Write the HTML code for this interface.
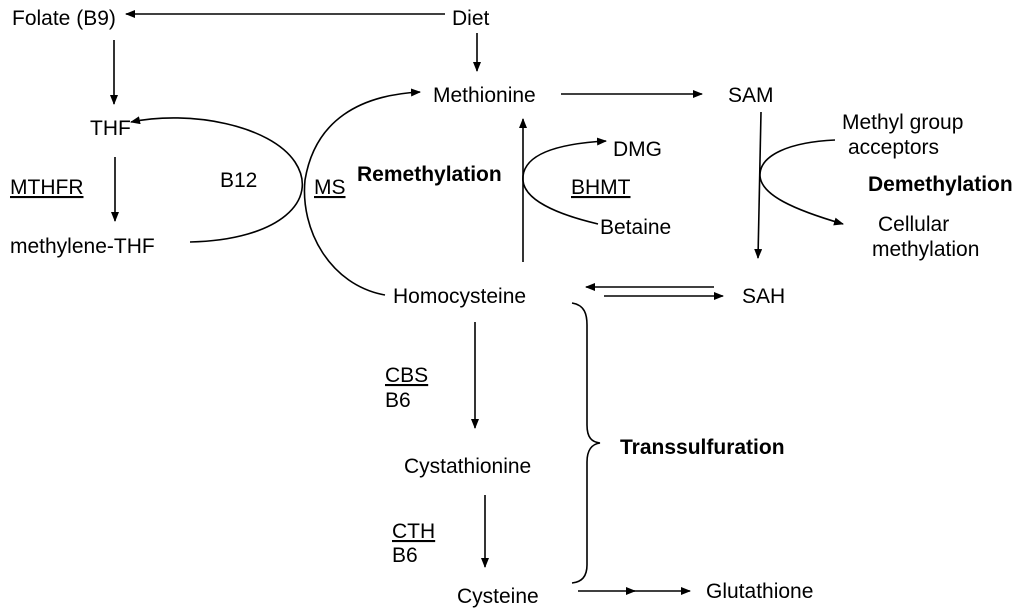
<!DOCTYPE html>
<html><head><meta charset="utf-8"><style>
html,body{margin:0;padding:0;background:#fff;}
svg{display:block;}
text{font-family:"Liberation Sans",Arial,sans-serif;font-size:21px;fill:#000;}
.b{font-weight:bold;}
</style></head><body>
<svg width="1024" height="616" viewBox="0 0 1024 616" xmlns="http://www.w3.org/2000/svg">
<defs><marker id="a" markerWidth="10" markerHeight="8" refX="9" refY="4" orient="auto" markerUnits="userSpaceOnUse"><path d="M0,0 L10,4 L0,8 z" fill="#000"/></marker></defs>
<g stroke="#000" stroke-width="1.6" fill="none">
<line x1="445" y1="14" x2="126" y2="14" marker-end="url(#a)"/>
<line x1="477" y1="33" x2="477" y2="71" marker-end="url(#a)"/>
<line x1="561" y1="94" x2="702" y2="94" marker-end="url(#a)"/>
<line x1="114" y1="40" x2="114" y2="104" marker-end="url(#a)"/>
<line x1="115" y1="157" x2="115" y2="221" marker-end="url(#a)"/>
<path d="M190,242 C280,240 320,200 295,162 C270,125 190,110 131,122" marker-end="url(#a)"/>
<path d="M385,295 C330,285 300,230 305,180 C315,120 360,95 420,92" marker-end="url(#a)"/>
<line x1="523" y1="262" x2="523" y2="119" marker-end="url(#a)"/>
<path d="M598,224 C560,215 520,200 523,176 C526,150 570,143 606,141" marker-end="url(#a)"/>
<line x1="761" y1="112" x2="758" y2="258" marker-end="url(#a)"/>
<path d="M835,140 C790,142 760,155 760,175 C760,195 795,210 843,224" marker-end="url(#a)"/>
<line x1="714" y1="287" x2="586" y2="287" marker-end="url(#a)"/>
<line x1="604" y1="296" x2="723" y2="296" marker-end="url(#a)"/>
<line x1="475" y1="322" x2="475" y2="428" marker-end="url(#a)"/>
<line x1="485" y1="495" x2="485" y2="567" marker-end="url(#a)"/>
<line x1="578" y1="591" x2="635" y2="591" marker-end="url(#a)"/>
<line x1="633" y1="591" x2="690" y2="591" marker-end="url(#a)"/>
<path d="M572,303 C585,305 587,315 587,325 L587,425 C587,438 592,442 600,443 C592,444 587,450 587,462 L587,565 C587,575 583,582 572,583"/>
</g>
<text x="12" y="25">Folate (B9)</text>
<text x="452" y="25">Diet</text>
<text x="433" y="102">Methionine</text>
<text x="728" y="102">SAM</text>
<text x="90" y="135">THF</text>
<text x="10" y="194" text-decoration="underline">MTHFR</text>
<text x="10" y="253">methylene-THF</text>
<text x="220" y="187">B12</text>
<text x="314" y="194" text-decoration="underline">MS</text>
<text class="b" x="357" y="181">Remethylation</text>
<text x="613" y="156">DMG</text>
<text x="571" y="194" text-decoration="underline">BHMT</text>
<text x="600" y="234">Betaine</text>
<text x="842" y="129">Methyl group</text>
<text x="848" y="154">acceptors</text>
<text class="b" x="868" y="191">Demethylation</text>
<text x="878" y="231">Cellular</text>
<text x="872" y="256">methylation</text>
<text x="393" y="303">Homocysteine</text>
<text x="742" y="303">SAH</text>
<text x="385" y="382" text-decoration="underline">CBS</text>
<text x="385" y="407">B6</text>
<text x="404" y="473">Cystathionine</text>
<text class="b" x="620" y="454">Transsulfuration</text>
<text x="392" y="538" text-decoration="underline">CTH</text>
<text x="392" y="562">B6</text>
<text x="457" y="603">Cysteine</text>
<text x="706" y="598">Glutathione</text>
</svg>
</body></html>
